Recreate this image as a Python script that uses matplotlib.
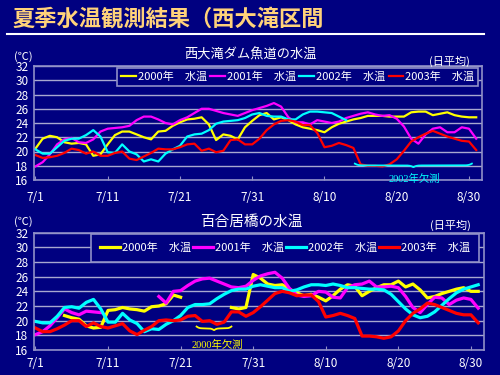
import numpy as np
import matplotlib
matplotlib.use('Agg')
import matplotlib.pyplot as plt
from matplotlib.lines import Line2D

plt.rcParams['font.family'] = ['Noto Sans CJK JP', 'DejaVu Sans']

nan = np.nan

# daily means 7/1 .. 8/31
day = np.arange(62)
tick_days = [0, 10, 20, 30, 40, 50, 60]
tick_labels = ['7/1', '7/11', '7/21', '7/31', '8/10', '8/20', '8/30']
years = ['2000年　水温', '2001年　水温', '2002年　水温', '2003年　水温']
line_colors = ['#FFFF00', '#FF00FF', '#00FFFF', '#FF0000']

# 西大滝ダム魚道
dam_2000 = [20.4, 21.8, 22.2, 22.0, 21.3, 21.1, 21.2, 21.0, 19.4, 19.6,
            21.0, 22.3, 22.8, 22.8, 22.4, 22.0, 21.7, 22.8, 22.9, 23.6,
            24.1, 24.5, 24.6, 24.8, 23.8, 21.6, 22.4, 22.2, 21.7, 23.4,
            24.3, 25.1, 25.4, 24.5, 24.8, 24.4, 23.8, 23.4, 23.2, 23.0,
            22.7, 23.4, 23.9, 24.2, 24.5, 24.7, 25.0, 25.0, 25.0, 24.9,
            24.9, 24.9, 25.5, 25.6, 25.6, 25.1, 25.3, 25.5, 25.1, 24.9,
            24.8, 24.8]
dam_2001 = [17.9, 18.5, 19.6, 21.0, 21.7, 21.9, 21.3, 21.2, 21.7, 22.8,
            23.2, 23.3, 23.4, 23.6, 24.4, 24.9, 24.9, 24.5, 24.0, 23.8,
            24.4, 24.8, 25.4, 26.0, 26.0, 25.7, 25.4, 25.2, 25.0, 25.4,
            25.8, 26.1, 26.4, 26.8, 26.3, 24.8, 24.1, 24.1, 23.8, 24.4,
            24.2, 24.0, 24.2, 24.7, 25.0, 25.3, 25.5, 25.2, 25.0, 25.1,
            24.6, 23.5, 21.8, 21.1, 22.4, 23.2, 23.4, 22.7, 22.7, 23.4,
            23.2, 21.8]
dam_2002 = [20.3, 19.7, 19.7, 20.6, 21.5, 21.8, 21.8, 22.3, 23.0, 22.1,
            19.9, 19.8, 21.0, 20.0, 19.6, 18.6, 18.9, 18.6, 19.7, 20.3,
            20.8, 22.1, 22.4, 22.5, 23.0, 23.9, 24.2, 24.3, 24.4, 24.7,
            25.2, 25.4, 25.0, 24.9, 24.9, 24.5, 24.5, 25.2, 25.6, 25.6,
            25.5, 25.4, 24.9, 24.4, nan, nan, nan, nan, nan, nan,
            nan, nan, nan, nan, nan, nan, nan, nan, nan, nan,
            nan, nan]
dam_2003 = [19.5, 19.1, 19.2, 19.4, 19.8, 20.4, 20.2, 19.7, 20.0, 19.4,
            19.4, 19.8, 20.0, 19.0, 18.8, 19.3, 19.8, 20.4, 20.3, 20.3,
            20.6, 21.0, 21.1, 20.1, 20.4, 19.9, 20.1, 21.6, 21.7, 21.0,
            21.0, 21.8, 23.0, 23.8, 24.3, 24.4, 24.2, 23.7, 23.7, 22.6,
            20.6, 20.8, 21.2, 20.9, 20.5, 18.2, 18.0, 18.0, 17.9, 18.2,
            18.9, 20.1, 21.4, 22.0, 22.5, 22.9, 22.5, 22.1, 21.8, 21.5,
            21.4, 20.2]

# 百合居橋
bridge_2000 = [nan, nan, nan, nan, 20.7, 20.4, 20.2, 19.3, 19.0, 19.1,
               21.4, 21.5, 21.8, 21.6, 21.5, 21.3, 21.9, 22.0, 22.3, 23.5,
               23.2, nan, nan, nan, nan, nan, nan, 21.8, 21.6, 21.8,
               26.3, 25.8, 25.0, 24.8, 24.9, 24.3, 23.8, 23.4, 23.6, 23.2,
               22.7, 23.4, 24.3, 24.9, 24.7, 23.4, 24.0, 24.5, 24.9, 24.9,
               25.4, 24.6, 25.0, 24.2, 23.1, 23.3, 23.7, 24.0, 24.3, 24.5,
               24.0, 24.0]
bridge_2001 = [18.1, 18.5, 19.3, 20.4, 21.6, 21.1, 20.8, 21.3, 21.2, 21.1,
               nan, nan, nan, nan, nan, nan, nan, 23.3, 22.4, 24.0,
               24.1, 24.8, 25.4, 25.7, 25.8, 25.4, 25.0, 24.6, 24.5, 24.7,
               25.5, 26.1, 26.4, 26.6, 25.8, 24.4, 23.5, 23.3, 23.4, 24.0,
               23.9, 23.2, 23.1, 24.5, 24.9, 25.0, 25.4, 24.6, 24.6, 24.7,
               24.5, 23.3, 21.8, 21.1, 22.2, 23.2, 23.1, 22.2, 22.8, 23.1,
               22.9, 21.7]
bridge_2002 = [19.9, 19.7, 19.7, 20.6, 21.8, 21.9, 21.7, 22.5, 22.9, 21.6,
               19.8, 19.8, 21.0, 20.1, 19.6, 18.5, 18.9, 18.8, 19.5, 20.0,
               20.7, 21.8, 22.2, 22.2, 22.3, 23.0, 23.6, 24.1, 24.3, 24.3,
               24.7, 24.9, 24.7, 24.5, 24.5, 24.0, 24.2, 24.6, 24.9, 24.9,
               24.8, 25.0, 24.8, 24.5, 24.5, 24.4, 24.3, 24.3, 24.2, 23.6,
               22.6, 21.6, 20.8, 20.4, 20.6, 21.2, 22.1, 23.0, 23.8, 24.3,
               24.6, 24.9]
bridge_2003 = [19.0, 18.5, 18.5, 18.9, 19.4, 20.0, 20.0, 19.2, 19.7, 19.2,
               19.0, 19.3, 19.6, 18.6, 18.1, 18.7, 19.2, 20.0, 20.1, 20.0,
               20.1, 20.6, 20.7, 19.9, 20.0, 19.5, 19.8, 21.2, 21.2, 20.6,
               21.1, 21.9, 22.8, 23.7, 24.0, 23.8, 23.4, 23.5, 23.5, 22.6,
               20.5, 20.7, 21.0, 20.7, 20.3, 17.9, 17.9, 17.8, 17.6, 17.8,
               18.6, 20.0, 21.0, 21.6, 22.4, 22.2, 21.8, 21.4, 21.0, 20.8,
               20.8, 19.7]

BG = '#000080'
FRAME = '#9090C8'
GRID = '#A8A8D0'


def px(x, y):
    # pixel position on the 500x375 canvas -> figure fraction
    return x / 500, 1 - y / 375


def brace(ax, d0, d1, y_top, h, beta, color):
    half = np.linspace(0, 0.5, 200)
    yh = 1 / (1 + np.exp(-beta * (half - half[0]))) + 1 / (1 + np.exp(-beta * (half - half[-1])))
    yb = np.concatenate((yh, yh[-2::-1]))
    xb = np.linspace(d0, d1, len(yb))
    ax.plot(xb, y_top - h * (yb - 0.5), color=color, lw=1.3, clip_on=False, zorder=5)


def panel(rect, series, lw, leg_anchor, leg_pad, colspace, handlelen, xpad):
    ax = fig.add_axes(rect)
    ax.set_facecolor(BG)
    for vals, c, lab in zip(series, line_colors, years):
        ax.plot(day, vals, color=c, lw=lw, label=lab, solid_joinstyle='round')
    ax.set_xlim(-0.2, 61.8)
    ax.set_ylim(16, 32)
    ax.set_yticks(range(16, 33, 2))
    ax.set_xticks(tick_days)
    ax.set_xticklabels(tick_labels)
    ax.grid(axis='y', color=GRID, lw=1)
    ax.set_axisbelow(True)
    for s in ax.spines.values():
        s.set_color(FRAME)
        s.set_linewidth(1.2)
    ax.tick_params(axis='x', colors='white', direction='in', length=3, color=FRAME,
                   labelsize=8.5, pad=xpad)
    ax.tick_params(axis='y', colors='white', length=0, labelsize=8.5, pad=4)
    leg = ax.legend(ncol=4, loc='upper right', bbox_to_anchor=leg_anchor, fontsize=8,
                    handlelength=handlelen, handletextpad=0.2, columnspacing=colspace,
                    frameon=True, fancybox=False, edgecolor=FRAME, facecolor=BG,
                    framealpha=1, borderpad=leg_pad, borderaxespad=0, labelcolor='white')
    leg.get_frame().set_linewidth(1.2)
    return ax


fig = plt.figure(figsize=(5, 3.75), dpi=100, facecolor=BG)

fig.text(*px(12, 19), '夏季水温観測結果（西大滝区間', color='#FFD27A', fontsize=16,
         fontweight='bold', va='center', ha='left')
fig.add_artist(Line2D([7 / 500, 484 / 500], [1 - 34 / 375] * 2, color='white', lw=1.5))

# upper chart
ax1 = panel([34 / 500, 1 - 180 / 375, 448 / 500, 114 / 375],
            [dam_2000, dam_2001, dam_2002, dam_2003], 1.6,
            (0.992, 0.985), 0.35, 0.3, 1.3, 8)
fig.text(*px(250, 55), '西大滝ダム魚道の水温', color='white', fontsize=9.5, ha='center', va='center')
fig.text(*px(23, 57), '(℃)', color='white', fontsize=8, ha='center', va='center')
fig.text(*px(449, 61), '(日平均)', color='white', fontsize=8, ha='center', va='center')
brace(ax1, 44.2, 60.4, 18.3, 0.5, 70, '#00FFFF')
ax1.text(52.5, 16.1, '2002年欠測', color='#00FFFF', fontsize=7.5, ha='center', va='center',
         family=['Liberation Serif', 'Noto Sans CJK JP'])

# lower chart
ax2 = panel([34 / 500, 1 - 350 / 375, 450 / 500, 117.3 / 375],
            [bridge_2000, bridge_2001, bridge_2002, bridge_2003], 2.3,
            (0.988, 0.985), 0.75, 0.15, 1.8, 5)
fig.text(*px(251, 222), '百合居橋の水温', color='white', fontsize=10.5, ha='center', va='center')
fig.text(*px(23, 222), '(℃)', color='white', fontsize=8, ha='center', va='center')
fig.text(*px(450, 225), '(日平均)', color='white', fontsize=8, ha='center', va='center')
brace(ax2, 22.2, 27.0, 19.2, 0.5, 26, '#FFFF00')
ax2.text(25.0, 16.7, '2000年欠測', color='#FFFF00', fontsize=7.5, ha='center', va='center',
         family=['Liberation Serif', 'Noto Sans CJK JP'])

fig.savefig('out.png', dpi=100, facecolor=BG)
